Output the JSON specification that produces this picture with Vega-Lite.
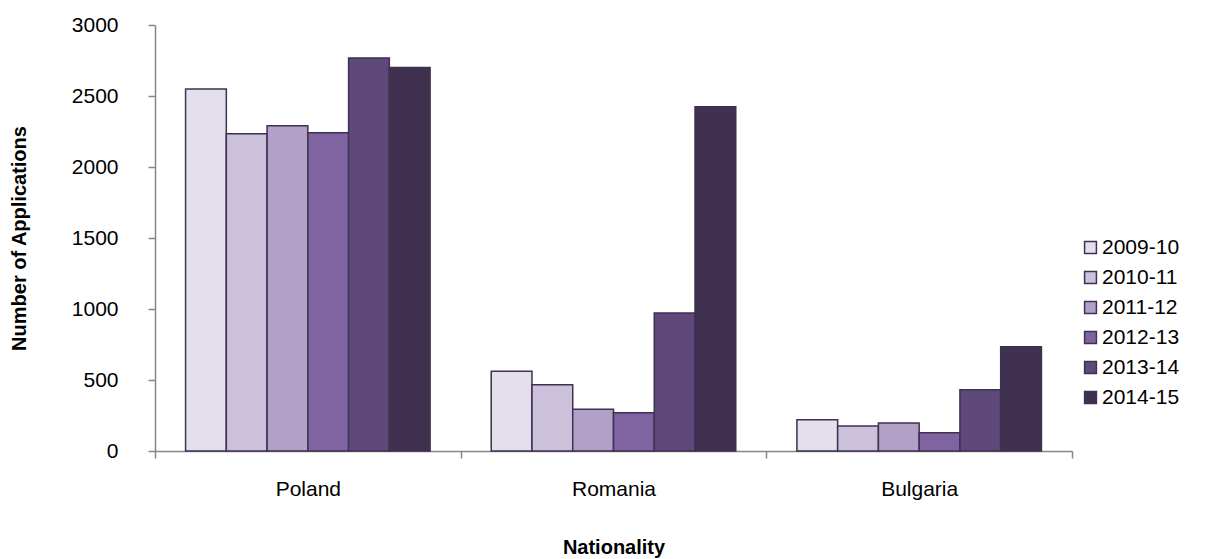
{
  "$schema": "https://vega.github.io/schema/vega-lite/v6.json",
  "width": 917,
  "height": 426,
  "autosize": "none",
  "padding": {"left": 155, "top": 25, "right": 157, "bottom": 108},
  "background": "white",
  "config": {
    "view": {"stroke": null},
    "font": "Liberation Sans"
  },
  "data": {
    "values": [
      {"nationality": "Poland", "year": "2009-10", "applications": 2550},
      {"nationality": "Poland", "year": "2010-11", "applications": 2235},
      {"nationality": "Poland", "year": "2011-12", "applications": 2290},
      {"nationality": "Poland", "year": "2012-13", "applications": 2242},
      {"nationality": "Poland", "year": "2013-14", "applications": 2768},
      {"nationality": "Poland", "year": "2014-15", "applications": 2700},
      {"nationality": "Romania", "year": "2009-10", "applications": 561},
      {"nationality": "Romania", "year": "2010-11", "applications": 467},
      {"nationality": "Romania", "year": "2011-12", "applications": 294},
      {"nationality": "Romania", "year": "2012-13", "applications": 270},
      {"nationality": "Romania", "year": "2013-14", "applications": 972},
      {"nationality": "Romania", "year": "2014-15", "applications": 2425},
      {"nationality": "Bulgaria", "year": "2009-10", "applications": 220},
      {"nationality": "Bulgaria", "year": "2010-11", "applications": 176},
      {"nationality": "Bulgaria", "year": "2011-12", "applications": 197},
      {"nationality": "Bulgaria", "year": "2012-13", "applications": 129},
      {"nationality": "Bulgaria", "year": "2013-14", "applications": 432},
      {"nationality": "Bulgaria", "year": "2014-15", "applications": 735}
    ]
  },
  "mark": {"type": "bar", "stroke": "#3F3151", "strokeWidth": 1.5},
  "encoding": {
    "x": {
      "field": "nationality",
      "type": "nominal",
      "sort": ["Poland", "Romania", "Bulgaria"],
      "scale": {"paddingInner": 0, "paddingOuter": 0},
      "axis": {
        "title": "Nationality",
        "titleFont": "Liberation Sans",
        "titleFontSize": 20,
        "titleFontWeight": "bold",
        "titleColor": "#000000",
        "titlePadding": 38,
        "labelAngle": 0,
        "labelFontSize": 21,
        "labelColor": "#000000",
        "labelPadding": 20,
        "tickBand": "extent",
        "tickSize": 7,
        "tickColor": "#868686",
        "tickWidth": 1.5,
        "domainColor": "#868686",
        "domainWidth": 1.5
      }
    },
    "xOffset": {
      "field": "year",
      "type": "nominal",
      "scale": {"paddingInner": 0, "paddingOuter": 0.75}
    },
    "y": {
      "field": "applications",
      "type": "quantitative",
      "scale": {"domain": [0, 3000]},
      "axis": {
        "title": "Number of Applications",
        "titleFont": "Liberation Sans",
        "titleFontSize": 20,
        "titleFontWeight": "bold",
        "titleColor": "#000000",
        "titlePadding": 42,
        "values": [0, 500, 1000, 1500, 2000, 2500, 3000],
        "format": "d",
        "grid": false,
        "labelFontSize": 21,
        "labelColor": "#000000",
        "labelPadding": 30,
        "tickSize": 7,
        "tickColor": "#868686",
        "tickWidth": 1.5,
        "domainColor": "#868686",
        "domainWidth": 1.5
      }
    },
    "color": {
      "field": "year",
      "type": "nominal",
      "scale": {
        "domain": ["2009-10", "2010-11", "2011-12", "2012-13", "2013-14", "2014-15"],
        "range": ["#E4DFEC", "#CCC1DA", "#B2A1C7", "#8064A2", "#5F497A", "#403151"]
      },
      "legend": {
        "title": null,
        "orient": "none",
        "legendX": 925,
        "legendY": 212,
        "symbolType": "square",
        "symbolSize": 140,
        "symbolStrokeColor": "#3F3151",
        "symbolStrokeWidth": 1.5,
        "labelFontSize": 21,
        "labelColor": "#000000",
        "labelOffset": 1,
        "rowPadding": 8
      }
    }
  }
}
